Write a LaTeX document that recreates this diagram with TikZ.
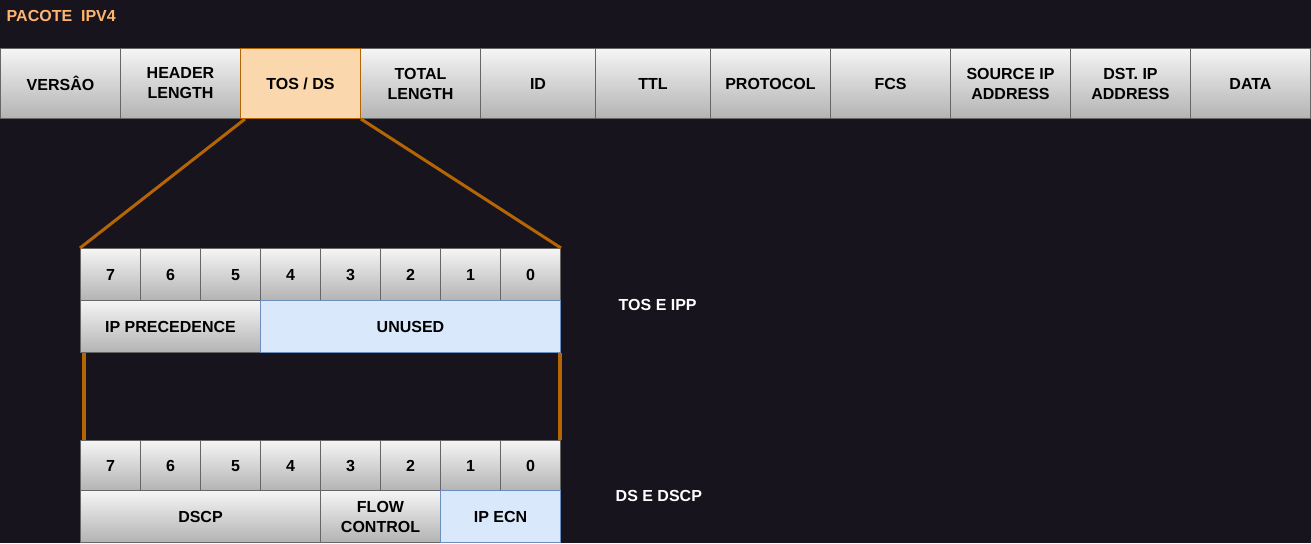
\documentclass[tikz,border=0pt]{standalone}
\usepackage{fontspec}
\setmainfont{Liberation Sans}
\definecolor{bgdark}{RGB}{24,20,29}
\definecolor{cellline}{HTML}{666666}
\definecolor{celltop}{HTML}{F5F5F5}
\definecolor{cellbottom}{HTML}{B3B3B3}
\definecolor{tosfill}{HTML}{FAD7AC}
\definecolor{tosline}{HTML}{B46504}
\definecolor{unusedfill}{HTML}{DAE8FC}
\definecolor{unusedline}{HTML}{6C8EBF}
\definecolor{titleorange}{HTML}{FFB570}

\tikzset{
  field/.style={anchor=north west, inner sep=0pt, align=center, line width=0.75pt,
    text=black, font=\fontsize{12}{15}\selectfont\bfseries},
  greycell/.style={field, draw=cellline, top color=celltop, bottom color=cellbottom},
  bitcell/.style={greycell, minimum width=45pt, text height=8.6pt, text depth=0pt},
  toscell/.style={field, draw=tosline, fill=tosfill},
  bluecell/.style={field, draw=unusedline, fill=unusedfill},
  zoomline/.style={draw=tosline, line width=2.25pt},
  joinline/.style={draw=tosline, line width=3pt},
  sidelabel/.style={anchor=west, text=white, font=\fontsize{12}{15}\selectfont\bfseries}
}

\begin{document}
\begin{tikzpicture}[x=0.75pt, y=-0.75pt]
                % Background
                \fill[bgdark] (0,0) rectangle (1311,543);
                \useasboundingbox (0,0) rectangle (1311,543);

                % Title
                \node[anchor=west, text=titleorange, font=\fontsize{12}{14}\selectfont\bfseries]
                  (title) at (2,16) {PACOTE\ \ IPV4};

                % IPv4 header fields
                \foreach \n/\xl/\w/\t in {versao/0/120/{VERSÂO}, hlen/120/120/{HEADER\\LENGTH},
                    tlen/360/120/{TOTAL\\LENGTH}, id/480/115/{ID}, ttl/595/115/{TTL},
                    proto/710/120/{PROTOCOL}, fcs/830/120/{FCS}, srcip/950/120/{SOURCE IP\\ADDRESS},
                    dstip/1070/120/{DST. IP\\ADDRESS}, data/1190/120/{DATA}}
                  \node[greycell, minimum width=\w*0.75pt, minimum height=52.5pt] (\n) at (\xl,48) {\t};
                \node[toscell, minimum width=90pt, minimum height=52.5pt] (tos) at (240,48) {TOS / DS};

                % TOS bits
                \foreach \i in {7,...,0}
                  \node[bitcell, minimum height=39pt] (tb\i) at ({80+60*(7-\i)},248)
                    {\ifnum\i=5 \hspace*{7.5pt}\fi\i};
                \node[greycell, minimum width=135pt, minimum height=39pt] (prec) at (80,300) {IP PRECEDENCE};
                \node[bluecell, minimum width=225pt, minimum height=39pt] (unused) at (260,300) {UNUSED};
                \node[sidelabel] (tosipp) at (614,305) {TOS E IPP};

                % DS bits
                \foreach \i in {7,...,0}
                  \node[bitcell, minimum height=37.5pt] (db\i) at ({80+60*(7-\i)},440)
                    {\ifnum\i=5 \hspace*{7.5pt}\fi\i};
                \node[greycell, minimum width=180pt, minimum height=39pt] (dscp) at (80,490) {DSCP};
                \node[greycell, minimum width=90pt, minimum height=39pt] (flow) at (320,490) {FLOW\\CONTROL};
                \node[bluecell, minimum width=90pt, minimum height=39pt] (ecn) at (440,490) {IP ECN};
                \node[sidelabel] (dsdscp) at (611,496) {DS E DSCP};

                % Zoom lines
                \draw[zoomline] ([xshift=3.75pt]tos.south west) -- (tb7.north west);
                \draw[zoomline] (tos.south east) -- (tb0.north east);
                \draw[joinline] ([xshift=3pt]prec.south west) -- ([xshift=3pt]db7.north west);
                \draw[joinline] ([xshift=-1pt]unused.south east) -- ([xshift=-1pt]db0.north east);
\end{tikzpicture}
\end{document}
